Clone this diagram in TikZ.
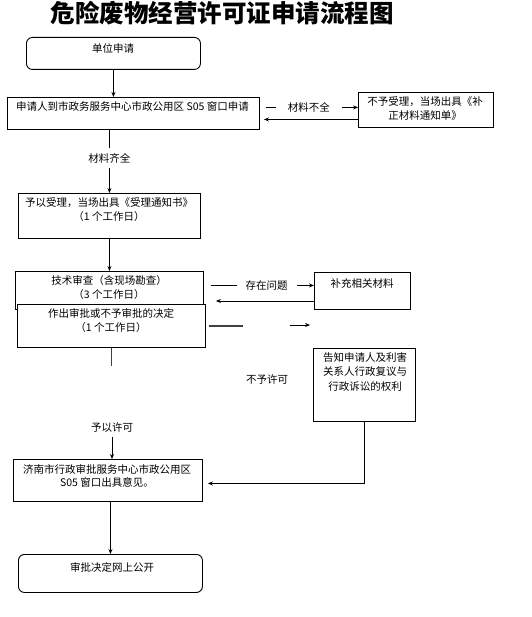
\documentclass[tikz,border=0pt]{standalone}
\usepackage{fontspec}
\setmainfont{Noto Sans CJK SC}
\usetikzlibrary{arrows.meta,positioning}

\tikzset{
    box/.style={draw,line width=0.9pt,fill=white,anchor=north west,inner sep=0pt},
    rbox/.style={box,rounded corners=6pt},
    txt/.style={anchor=north,align=center,inner sep=0pt,
        font=\fontsize{10.5}{14.5}\selectfont},
    lbl/.style={fill=white,inner xsep=6pt,inner ysep=4pt,
        font=\fontsize{10.5}{14.5}\selectfont},
    arr/.style={line width=0.9pt,-{Stealth[length=5pt,width=4pt]}}
}

\begin{document}
\begin{tikzpicture}[x=1pt,y=-1pt]
    \useasboundingbox (0,0) rectangle (531,617);
    \node [font=\fontsize{24.5}{27}\selectfont\bfseries] (title) at (222,13) {危险废物经营许可证申请流程图};
    % boxes
    \node [rbox,minimum width=174pt,minimum height=32pt] (b1) at (26,37) {};
    \node [box,minimum width=252pt,minimum height=32pt] (b2) at (7,97) {};
    \node [box,minimum width=135pt,minimum height=35pt] (b3) at (358,92) {};
    \node [box,minimum width=182pt,minimum height=45pt] (b4) at (18,193) {};
    \node [box,minimum width=188pt,minimum height=38pt] (b5) at (15,271) {};
    \node [box,minimum width=188pt,minimum height=43pt] (b6) at (17,304) {};
    \node [box,minimum width=96pt,minimum height=37pt] (b7) at (314,272) {};
    \node [box,minimum width=102pt,minimum height=73pt] (b8) at (313,348) {};
    \node [box,minimum width=189pt,minimum height=42pt] (b9) at (13,459) {};
    \node [rbox,minimum width=184pt,minimum height=38pt] (b10) at (18,554) {};
    % texts
    \node [txt] (b1t) at (113,43) {单位申请};
    \node [txt,anchor=north west] (b2t) at (16,101) {申请人到市政务服务中心市政公用区 S05 窗口申请};
    \node [txt] (b3t) at (425,96) {不予受理，当场出具《补\\正材料通知单》};
    \node [txt] (b4t) at (109,197) {予以受理，当场出具《受理通知书》\\（1 个工作日）};
    \node [txt] (b5t) at (109,275) {技术审查（含现场勘查）\\（3 个工作日）};
    \node [txt] (b6t) at (111,308) {作出审批或不予审批的决定\\（1 个工作日）};
    \node [txt] (b7t) at (362,278) {补充相关材料};
    \node [txt] (b8t) at (365,352) {告知申请人及利害\\关系人行政复议与\\行政诉讼的权利};
    \node [txt,font=\fontsize{10.5}{13}\selectfont] (b9t) at (107,464) {济南市行政审批服务中心市政公用区\\S05 窗口出具意见。};
    \node [txt] (b10t) at (112,562) {审批决定网上公开};
    % connectors
    \draw [arr] (b1.south) -- (b1.south |- b2.north);
    \draw [arr,shorten <=6pt] ([yshift=6pt]b2.east) -- node [lbl,inner xsep=12pt] {材料不全} ([yshift=6pt]b2.east -| b3.west);
    \draw [arr,shorten >=4pt] ([yshift=-6pt]b2.east -| b3.west) -- ([yshift=-6pt]b2.east);
    \draw [arr] (b4.north |- b2.south) -- node [lbl,pos=0.45,inner ysep=5pt] {材料齐全} (b4.north);
    \draw [arr] (b4.south) -- (b4.south |- b5.north);
    \draw [arr,shorten <=7pt] ([yshift=5pt]b5.east) -- node [lbl,pos=0.57,inner xsep=9pt] {存在问题} ([yshift=5pt]b5.east -| b7.west);
    \draw [arr,shorten >=12pt] ([yshift=-10pt]b7.west) -- ([yshift=-10pt]b7.west -| b5.east);
    \coordinate (nx) at (310,325);
    \draw [line width=1.2pt,black!75] ([xshift=3pt]b6.east) -- ++(34,0);
    \draw [arr] (nx) ++(-20,0) -- (nx);
    \node [lbl,fill=none] (no) at (267,380) {不予许可};
    \draw [line width=1.2pt,black!75] (b6.south) -- ++(0,18);
    \node [lbl,fill=none] (ok) at (112,428) {予以许可};
    \draw [arr] (ok.south) -- (ok.south |- b9.north);
    \draw [arr,shorten >=5pt] (b8.south) |- ([yshift=-3pt]b9.east);
    \draw [arr] (b10.north |- b9.south) -- (b10.north);
\end{tikzpicture}
\end{document}
